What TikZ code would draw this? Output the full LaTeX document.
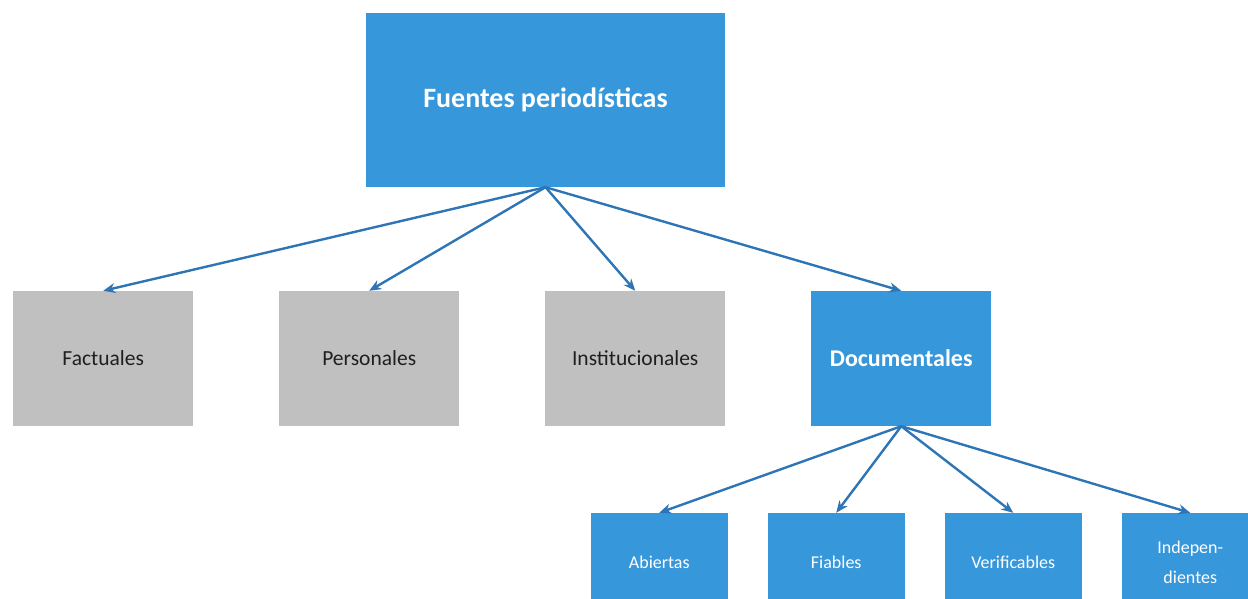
\documentclass[tikz,border=0pt]{standalone}
\usepackage{fontspec}
\setmainfont{Carlito}
\usetikzlibrary{arrows.meta,trees}

\definecolor{cajaazul}{RGB}{55,151,219}
\definecolor{cajagris}{RGB}{192,192,192}
\definecolor{flechaazul}{RGB}{46,117,182}

\tikzset{
  raiz/.style={fill=cajaazul, text=white, font=\fontsize{28}{34}\selectfont\bfseries,
    minimum width=359pt, minimum height=174pt, inner sep=0pt},
  tipo/.style={fill=cajagris, text=black!88, font=\fontsize{21.5}{26}\selectfont,
    minimum width=180pt, minimum height=135pt, inner sep=0pt},
  tipodoc/.style={tipo, fill=cajaazul, text=white, font=\fontsize{24}{28}\selectfont\bfseries},
  rasgo/.style={fill=cajaazul, text=white, font=\fontsize{18}{30}\selectfont,
    minimum width=137pt, minimum height=98pt, inner sep=0pt, align=center},
  flecha/.style={draw=flechaazul, line width=2.4pt, -{Stealth[length=12pt,width=10pt]}}
}

\begin{document}
\begin{tikzpicture}[x=1pt, y=1pt,
    level 1/.style={grow via three points={one child at (-43.25,-258.5) and
      two children at (-176.25,-258.5) and (89.75,-258.5)}},
    level 2/.style={grow via three points={one child at (23.5,-203.5) and
      two children at (-65,-203.5) and (112,-203.5)}},
    edge from parent/.style={draw=none}]
  \useasboundingbox (0,0) rectangle (1248,-599);
  \clip (0,0) rectangle (1248,-599);
  \node[raiz] (fuentes) at (545.5,-100) {Fuentes periodísticas}
    child { node[tipo] (factuales) {Factuales} }
    child { node[tipo] (personales) {Personales} }
    child { node[tipo] (institucionales) {Institucionales} }
    child { node[tipodoc] (documentales) {Documentales}
      child { node[rasgo] (abiertas) {Abiertas} }
      child { node[rasgo] (fiables) {Fiables} }
      child { node[rasgo] (verificables) {Verificables} }
      child { node[rasgo] (independientes) {Indepen-\\dientes} }
    };
  % flechas
  \foreach \hijo in {factuales,personales,institucionales,documentales}
    \draw[flecha] (fuentes.south) -- (\hijo.north);
  \foreach \hijo in {abiertas,fiables,verificables,independientes}
    \draw[flecha] (documentales.south) -- (\hijo.north);
\end{tikzpicture}
\end{document}
